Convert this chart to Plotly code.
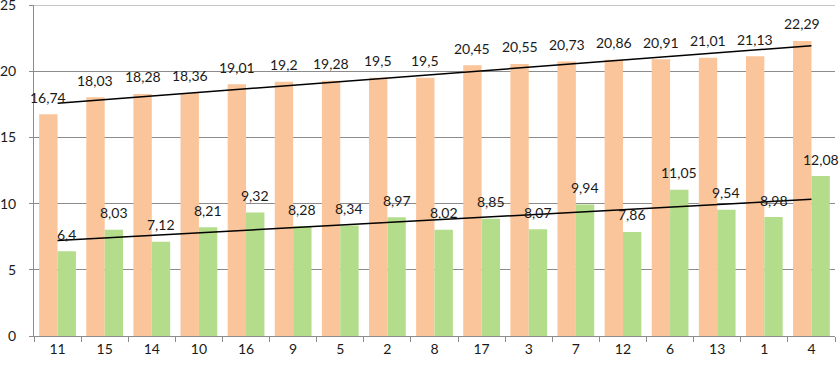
import numpy as np
import plotly.graph_objects as go

categories = ["11", "15", "14", "10", "16", "9", "5", "2", "8", "17", "3", "7", "12", "6", "13", "1", "4"]
series_a = [16.74, 18.03, 18.28, 18.36, 19.01, 19.2, 19.28, 19.5, 19.5, 20.45, 20.55, 20.73, 20.86, 20.91, 21.01, 21.13, 22.29]
series_b = [6.4, 8.03, 7.12, 8.21, 9.32, 8.28, 8.34, 8.97, 8.02, 8.85, 8.07, 9.94, 7.86, 11.05, 9.54, 8.98, 12.08]
y_ticks = [0, 5, 10, 15, 20, 25]

ORANGE = "#FAC59A"
GREEN = "#B3DC8B"
FONT = "Lato"
GRID = "#8c8c8c"

fig = go.Figure()
fig.add_trace(go.Bar(x=categories, y=series_a, marker=dict(color=ORANGE, line=dict(width=0)), showlegend=False))
fig.add_trace(go.Bar(x=categories, y=series_b, marker=dict(color=GREEN, line=dict(width=0)), showlegend=False))

idx = np.arange(len(categories))
for vals in (series_a, series_b):
    k, b = np.polyfit(idx, vals, 1)
    fig.add_trace(go.Scatter(x=[categories[0], categories[-1]],
                             y=[b, k * idx[-1] + b],
                             mode="lines", line=dict(color="black", width=1.5),
                             showlegend=False, hoverinfo="skip"))

def fmt(v):
    return str(v).replace(".", ",")

annotations = []
for vals, shift in ((series_a, -9.2), (series_b, 9.2)):
    for i, v in enumerate(vals):
        annotations.append(dict(x=i, y=v, xref="x", yref="y", text=fmt(v), showarrow=False,
                                xshift=shift, yshift=17, yanchor="middle",
                                font=dict(family=FONT, size=14, color="#1a1a1a")))

fig.update_layout(
    width=840, height=365,
    margin=dict(l=34, r=5, t=5, b=29, autoexpand=False),
    paper_bgcolor="white", plot_bgcolor="white",
    barmode="group", bargap=0.22, bargroupgap=0,
    annotations=annotations,
    shapes=[dict(type="line", xref="paper", x0=0, x1=1, yref="y", y0=y_ticks[-1], y1=y_ticks[-1],
                 line=dict(color=GRID, width=1), layer="below")],
    font=dict(family=FONT, size=14, color="#1a1a1a"),
)
fig.update_xaxes(type="category", range=[-0.5, len(categories) - 0.5],
                 showline=True, linecolor=GRID, linewidth=1,
                 ticks="outside", tickson="boundaries", ticklen=5, tickcolor=GRID,
                 showgrid=False, tickfont=dict(family=FONT, size=14, color="#1a1a1a"))
fig.update_yaxes(range=[0, 25], tickvals=y_ticks, showline=True, linecolor=GRID, linewidth=1,
                 ticks="outside", ticklen=4, tickcolor=GRID,
                 showgrid=True, gridcolor=GRID, gridwidth=1, zeroline=False,
                 ticklabelstandoff=10, ticklabeloverflow="allow",
                 tickfont=dict(family=FONT, size=14, color="#1a1a1a"))

fig.write_html("out.html", config={"displayModeBar": False},
               post_script="document.body.style.margin='0';document.body.style.overflow='hidden';")
